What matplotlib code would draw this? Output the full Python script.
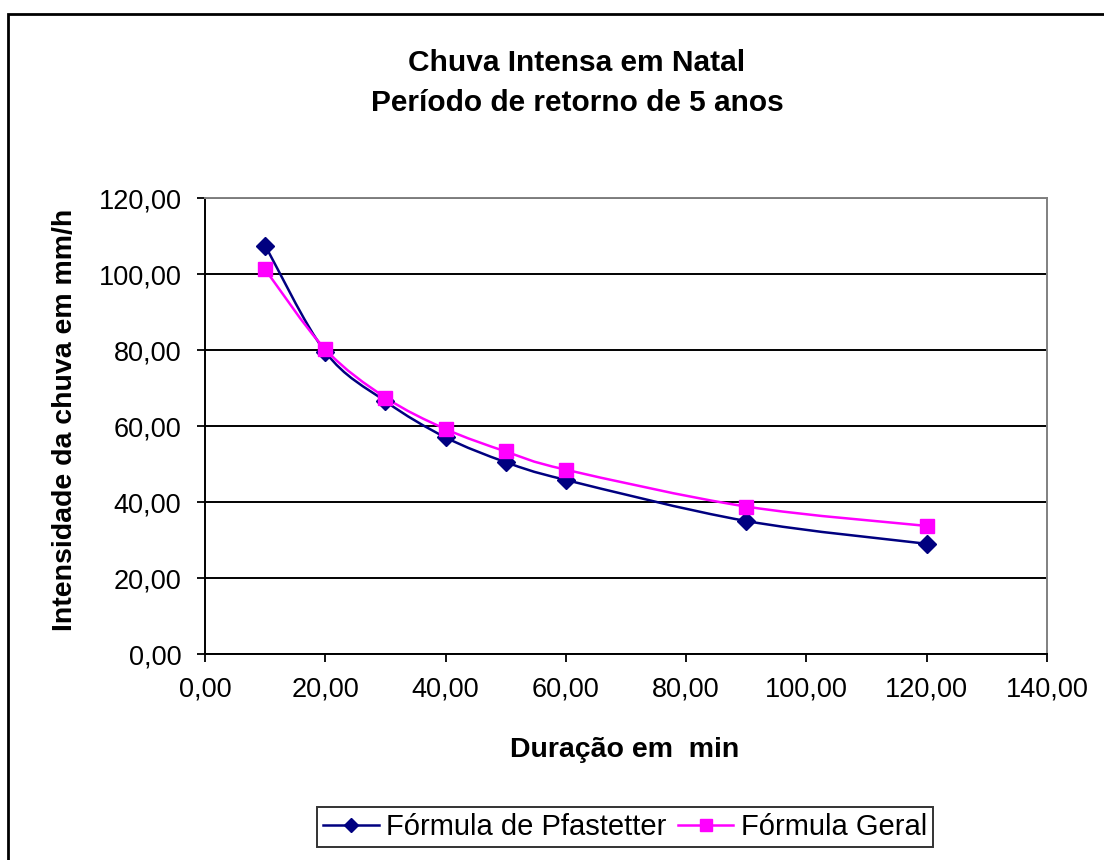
import numpy as np
import matplotlib
matplotlib.use("Agg")
import matplotlib.pyplot as plt
from matplotlib.path import Path
from matplotlib.patches import PathPatch, Rectangle
from matplotlib.lines import Line2D
from matplotlib.ticker import FuncFormatter, MultipleLocator

plt.rcParams['font.family'] = ['Liberation Sans', 'DejaVu Sans']

duracao = [10, 20, 30, 40, 50, 60, 90, 120]
pfastetter = [107.5, 79.5, 66.5, 57.0, 50.5, 45.8, 35.0, 29.0]
geral = [101.2, 80.2, 67.5, 59.2, 53.3, 48.5, 38.8, 33.7]

title_lines = ["Chuva Intensa em Natal", "Período de retorno de 5 anos"]
xlabel = "Duração em  min"
ylabel = "Intensidade da chuva em mm/h"
names = ["Fórmula de Pfastetter", "Fórmula Geral"]
colors = ["#000080", "#FF00FF"]
markers = ["D", "s"]

W, H = 1104, 860
fig = plt.figure(figsize=(W / 100, H / 100), dpi=100)
ax = fig.add_axes([205 / W, 1 - 654 / H, (1047 - 205) / W, (654 - 198) / H])

def smooth_path(xs, ys):
    P = np.column_stack([xs, ys]).astype(float)
    n = len(P)
    verts = [P[0]]
    codes = [Path.MOVETO]
    for i in range(n - 1):
        p0 = P[i - 1] if i > 0 else P[i]
        p3 = P[i + 2] if i + 2 < n else P[i + 1]
        c1 = P[i] + (P[i + 1] - p0) / 6.0
        c2 = P[i + 1] - (p3 - P[i]) / 6.0
        verts += [c1, c2, P[i + 1]]
        codes += [Path.CURVE4] * 3
    return Path(verts, codes)

for ys, c, m in zip([pfastetter, geral], colors, markers):
    ax.add_patch(PathPatch(smooth_path(duracao, ys), facecolor='none',
                           edgecolor=c, lw=1.8, zorder=3))
    ax.plot(duracao, ys, linestyle='none', marker=m, color=c,
            markersize=10 if m == 's' else 9.5, zorder=4)

ax.set_xlim(0, 140)
ax.set_ylim(0, 120)
ax.xaxis.set_major_locator(MultipleLocator(20))
ax.yaxis.set_major_locator(MultipleLocator(20))
fmt = FuncFormatter(lambda v, p: f"{v:.2f}".replace('.', ','))
ax.xaxis.set_major_formatter(fmt)
ax.yaxis.set_major_formatter(fmt)
ax.tick_params(direction='out', length=6, width=1.3, labelsize=19.5, colors='black')
ax.tick_params(axis='y', pad=11)
ax.tick_params(axis='x', pad=10)
ax.yaxis.grid(True, color='black', lw=1.4)
ax.set_axisbelow(True)
for s in ['left', 'bottom']:
    ax.spines[s].set_color('black')
    ax.spines[s].set_linewidth(1.4)
for s in ['top', 'right']:
    ax.spines[s].set_color('#808080')
    ax.spines[s].set_linewidth(1.4)

fig.text(625 / W, 1 - 750 / H, xlabel, ha='center', va='center',
         fontsize=20.5, fontweight='bold')
fig.text(65 / W, 1 - 420 / H, ylabel, ha='center', va='center', rotation=90,
         fontsize=20.5, fontweight='bold')

fig.text(577 / W, 1 - 63 / H, title_lines[0], ha='center', va='center',
         fontsize=21.5, fontweight='bold')
fig.text(577 / W, 1 - 103 / H, title_lines[1], ha='center', va='center',
         fontsize=21.5, fontweight='bold')

handles = [Line2D([], [], color=c, marker=m, lw=1.8, markersize=8 if m == 's' else 7.5)
           for c, m in zip(colors, markers)]
leg = fig.legend(handles, names, loc='center', bbox_to_anchor=(625 / W, 1 - 827 / H),
                 ncol=2, fontsize=21, frameon=True, fancybox=False,
                 handlelength=1.9, handletextpad=0.25, columnspacing=0.4,
                 borderpad=0.2, borderaxespad=0)
leg.get_frame().set_edgecolor('black')
leg.get_frame().set_linewidth(1.4)

fig.patches.append(Rectangle((8 / W, -0.05), 1.1, 1 - 14 / H + 0.05,
                             transform=fig.transFigure, fill=False,
                             edgecolor='black', lw=2))

fig.savefig("out.png", dpi=100)
